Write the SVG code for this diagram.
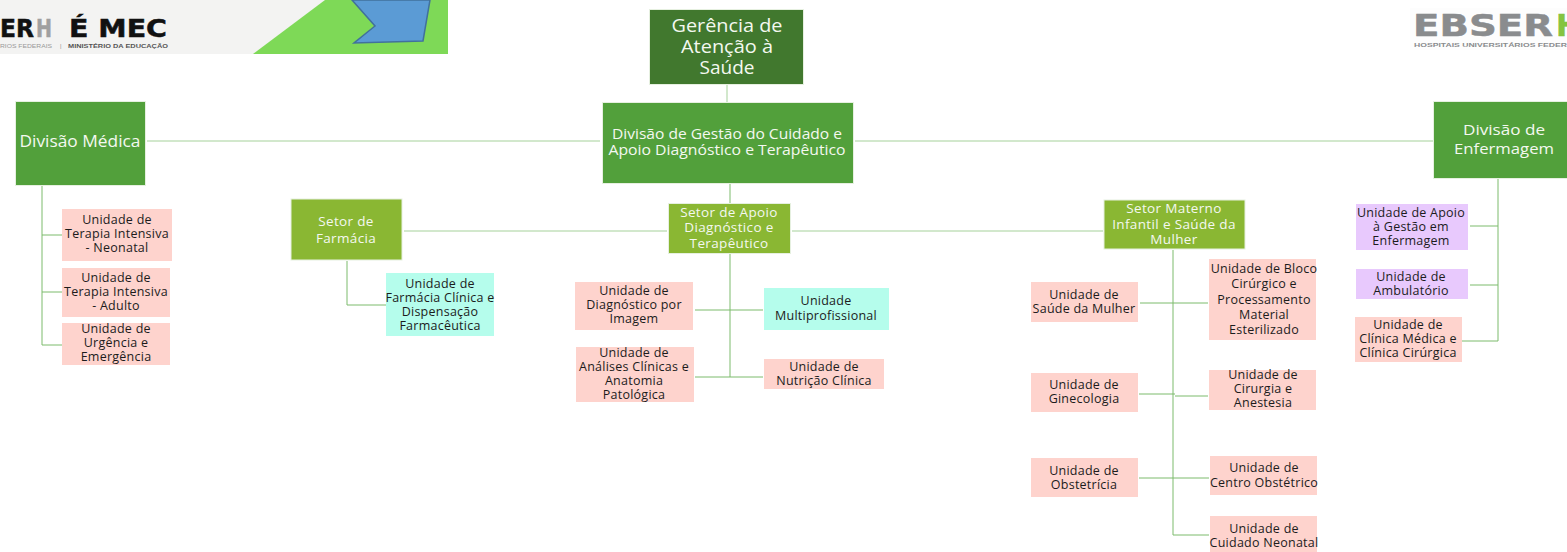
<svg xmlns="http://www.w3.org/2000/svg" width="1567" height="552" viewBox="0 0 1567 552">
<style>
text{font-family:"Open Sans","Noto Sans","Liberation Sans",sans-serif;text-anchor:middle}
.n{stroke:#e6f0e0;stroke-width:1}
.dk{fill:#41782e}.md{fill:#52a03b}.lt{fill:#8ab733}
.p{fill:#fed3cd}.c{fill:#b5fdec}.v{fill:#e8c9fd}
.w{fill:#f4f8f0}
.u{fill:#1c1c1c;font-size:12.500px;letter-spacing:.25px}
.s{font-size:13.500px;letter-spacing:.35px}
.l{fill:none;stroke:#a5d19a;stroke-width:1}
.d{fill:none;stroke:#7dbb6c;stroke-width:1}
.a{font-family:"DejaVu Sans",sans-serif;font-weight:bold;text-anchor:start;stroke-width:.5px}
.b{font-family:"Liberation Sans",sans-serif;text-anchor:start}
</style>
<rect width="1567" height="552" fill="#fff"/>
<g id="banner-left">
<rect x="0" y="0" width="448" height="54" fill="#f3f3f2"/>
<polygon points="253,54 325,0 448,0 448,54" fill="#7ed957"/>
<polygon points="352,0 375,26 354,43 423,41 430,0" fill="#5b9bd5" stroke="#41719c" stroke-width="1.500"/>
<text class="a" x="0" y="37" font-size="24" fill="#111" stroke="#111" textLength="34" lengthAdjust="spacingAndGlyphs">ER</text>
<text class="a" x="36" y="37" font-size="24" fill="#a0a0a0" stroke="#a0a0a0" textLength="16" lengthAdjust="spacingAndGlyphs">H</text>
<text class="a" x="69" y="37" font-size="24" fill="#111" stroke="#111" textLength="98" lengthAdjust="spacingAndGlyphs">É MEC</text>
<text class="b" x="0" y="48" font-size="5.500" fill="#999" textLength="52" lengthAdjust="spacingAndGlyphs">RIOS FEDERAIS</text>
<text class="b" x="60" y="48" font-size="5.500" fill="#888">|</text>
<text class="b" x="68" y="48" font-size="5.500" font-weight="bold" fill="#555" textLength="100" lengthAdjust="spacingAndGlyphs">MINISTÉRIO DA EDUCAÇÃO</text>
</g>
<g id="logo-right">
<rect x="1410" y="8" width="157" height="42" fill="#fdfdfd"/>
<text class="a" x="1413" y="36" font-size="30" fill="#8a8c8e" stroke="#8a8c8e" textLength="140" lengthAdjust="spacingAndGlyphs">EBSER</text>
<text class="a" x="1556" y="36" font-size="30" fill="#84c441" stroke="#84c441">H</text>
<text class="b" x="1414" y="46.500" font-size="5.500" font-weight="bold" fill="#8a8c8e" textLength="153" lengthAdjust="spacingAndGlyphs">HOSPITAIS UNIVERSITÁRIOS FEDER</text>
</g>
<g id="connectors">
<path class="l" d="M727 85V102M147 141H600M855 141H1433M404 231H667M792 231H1103"/>
<path class="d" d="M730 183V204M730 254V377M695 310H730M730 310H763M695 377H763"/>
<path class="d" d="M42 186V345H62M42 235H62M42 292H62"/>
<path class="d" d="M347 261V305H386"/>
<path class="d" d="M1173 250V535H1209M1140 303H1208M1139 394H1175M1175 396H1208M1139 478H1209"/>
<path class="d" d="M1498 179V341H1438M1470 226H1498M1470 285H1498"/>
</g>
<g id="n-gerencia"><rect class="n dk" x="649.500" y="9.500" width="154" height="75"/><text class="w" x="727" y="32" font-size="17.500" textLength="111" lengthAdjust="spacingAndGlyphs">Gerência de</text><text class="w" x="727" y="53" font-size="17.500" textLength="92" lengthAdjust="spacingAndGlyphs">Atenção à</text><text class="w" x="727" y="74" font-size="17.500" textLength="55" lengthAdjust="spacingAndGlyphs">Saúde</text></g>
<g id="n-divisao-gestao"><rect class="n md" x="602.500" y="102.500" width="251" height="81"/><text class="w" x="727" y="139" font-size="13.800" textLength="230" lengthAdjust="spacingAndGlyphs">Divisão de Gestão do Cuidado e</text><text class="w" x="727" y="155" font-size="13.800" textLength="237" lengthAdjust="spacingAndGlyphs">Apoio Diagnóstico e Terapêutico</text></g>
<g id="n-divisao-medica"><rect class="n md" x="15.500" y="101.500" width="130" height="84"/><text class="w" x="80" y="147" font-size="15.500" textLength="121" lengthAdjust="spacingAndGlyphs">Divisão Médica</text></g>
<g id="n-divisao-enf"><rect class="n md" x="1433.500" y="101.500" width="134" height="77"/><text class="w" x="1504" y="135" font-size="15" textLength="82" lengthAdjust="spacingAndGlyphs">Divisão de</text><text class="w" x="1504" y="154" font-size="15" textLength="100" lengthAdjust="spacingAndGlyphs">Enfermagem</text></g>
<g id="n-farmacia"><rect class="n lt" x="291" y="199" width="111" height="61"/><text class="w s" x="346" y="226">Setor de</text><text class="w s" x="346" y="243">Farmácia</text></g>
<g id="n-apoio"><rect class="n lt" x="668.500" y="203.500" width="122" height="50"/><text class="w s" x="729" y="217">Setor de Apoio</text><text class="w s" x="729" y="232">Diagnóstico e</text><text class="w s" x="729" y="248">Terapêutico</text></g>
<g id="n-materno"><rect class="n lt" x="1104" y="200" width="141" height="49"/><text class="w s" x="1174" y="213">Setor Materno</text><text class="w s" x="1174" y="229">Infantil e Saúde da</text><text class="w s" x="1174" y="244">Mulher</text></g>
<g id="n-u1"><rect class="p" x="62" y="209" width="110" height="52"/><text class="u" x="117" y="224">Unidade de</text><text class="u" x="117" y="238">Terapia Intensiva</text><text class="u" x="117" y="252">- Neonatal</text></g>
<g id="n-u2"><rect class="p" x="62" y="268" width="108" height="49"/><text class="u" x="116" y="282">Unidade de</text><text class="u" x="116" y="296">Terapia Intensiva</text><text class="u" x="116" y="310">- Adulto</text></g>
<g id="n-u3"><rect class="p" x="62" y="323" width="108" height="42"/><text class="u" x="116" y="333">Unidade de</text><text class="u" x="116" y="347">Urgência e</text><text class="u" x="116" y="361">Emergência</text></g>
<g id="n-u4"><rect class="c" x="386" y="273" width="108" height="63"/><text class="u" x="440" y="288">Unidade de</text><text class="u" x="440" y="302">Farmácia Clínica e</text><text class="u" x="440" y="316">Dispensação</text><text class="u" x="440" y="330">Farmacêutica</text></g>
<g id="n-u5"><rect class="p" x="575" y="282" width="118" height="48"/><text class="u" x="634" y="295">Unidade de</text><text class="u" x="634" y="309">Diagnóstico por</text><text class="u" x="634" y="323">Imagem</text></g>
<g id="n-u6"><rect class="c" x="764" y="288" width="125" height="42"/><text class="u" x="826" y="305">Unidade</text><text class="u" x="826" y="320">Multiprofissional</text></g>
<g id="n-u7"><rect class="p" x="576" y="347" width="118" height="55"/><text class="u" x="634" y="357">Unidade de</text><text class="u" x="634" y="371">Análises Clínicas e</text><text class="u" x="634" y="385">Anatomia</text><text class="u" x="634" y="399">Patológica</text></g>
<g id="n-u8"><rect class="p" x="764" y="359" width="120" height="30"/><text class="u" x="824" y="371">Unidade de</text><text class="u" x="824" y="385">Nutrição Clínica</text></g>
<g id="n-u9"><rect class="p" x="1031" y="282" width="107" height="40"/><text class="u" x="1084" y="299">Unidade de</text><text class="u" x="1084" y="313">Saúde da Mulher</text></g>
<g id="n-u10"><rect class="p" x="1209" y="259" width="107" height="81"/><text class="u" x="1264" y="273">Unidade de Bloco</text><text class="u" x="1264" y="288">Cirúrgico e</text><text class="u" x="1264" y="304">Processamento</text><text class="u" x="1264" y="319">Material</text><text class="u" x="1264" y="334">Esterilizado</text></g>
<g id="n-u11"><rect class="p" x="1031" y="373" width="107" height="39"/><text class="u" x="1084" y="389">Unidade de</text><text class="u" x="1084" y="403">Ginecologia</text></g>
<g id="n-u12"><rect class="p" x="1209" y="370" width="107" height="40"/><text class="u" x="1263" y="379">Unidade de</text><text class="u" x="1263" y="393">Cirurgia e</text><text class="u" x="1263" y="407">Anestesia</text></g>
<g id="n-u13"><rect class="p" x="1031" y="458" width="107" height="39"/><text class="u" x="1084" y="475">Unidade de</text><text class="u" x="1084" y="489">Obstetrícia</text></g>
<g id="n-u14"><rect class="p" x="1210" y="456" width="107" height="39"/><text class="u" x="1264" y="472">Unidade de</text><text class="u" x="1264" y="487">Centro Obstétrico</text></g>
<g id="n-u15"><rect class="p" x="1210" y="516" width="107" height="36"/><text class="u" x="1264" y="533">Unidade de</text><text class="u" x="1264" y="547">Cuidado Neonatal</text></g>
<g id="n-u16"><rect class="v" x="1356" y="204" width="112" height="46"/><text class="u" x="1411" y="217">Unidade de Apoio</text><text class="u" x="1411" y="231">à Gestão em</text><text class="u" x="1411" y="245">Enfermagem</text></g>
<g id="n-u17"><rect class="v" x="1356" y="269" width="112" height="30"/><text class="u" x="1411" y="281">Unidade de</text><text class="u" x="1411" y="295">Ambulatório</text></g>
<g id="n-u18"><rect class="p" x="1355" y="317" width="107" height="45"/><text class="u" x="1408" y="329">Unidade de</text><text class="u" x="1408" y="343">Clínica Médica e</text><text class="u" x="1408" y="357">Clínica Cirúrgica</text></g>
</svg>
